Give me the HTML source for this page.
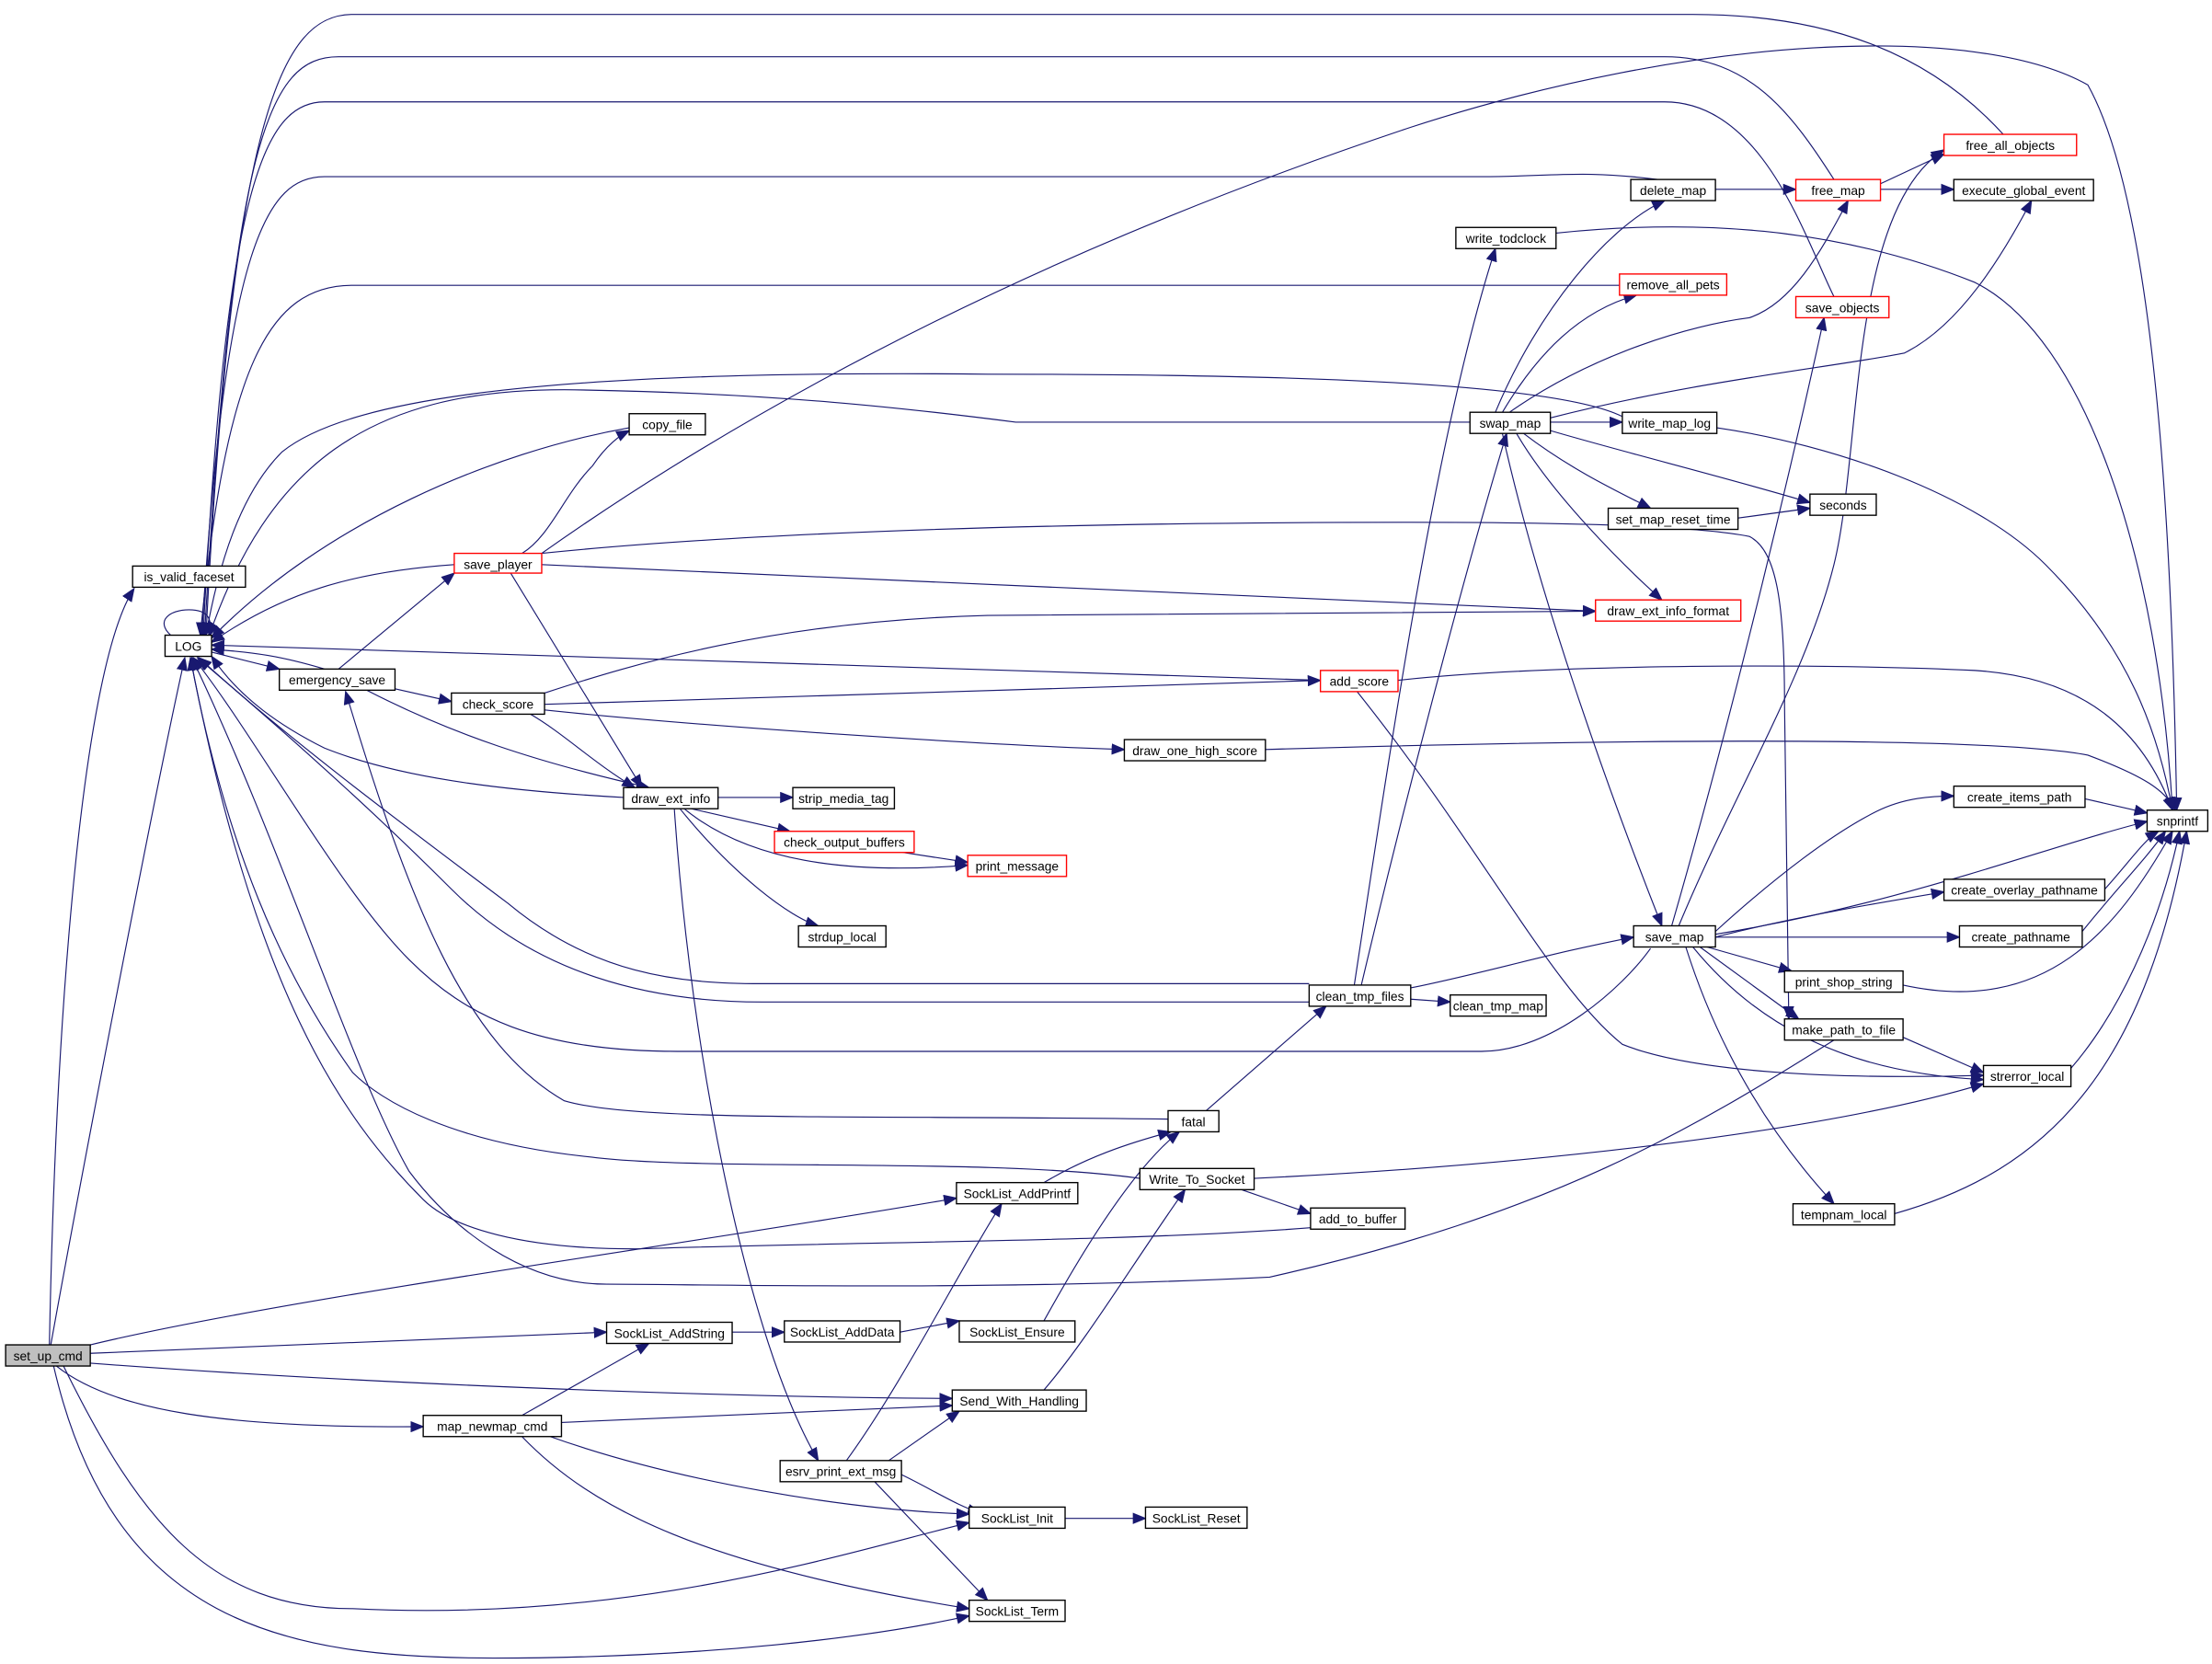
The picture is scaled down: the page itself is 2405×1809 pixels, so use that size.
<!DOCTYPE html>
<html><head><meta charset="utf-8"><style>
html,body{margin:0;padding:0;background:#fff;}
svg{display:block;}
text{font-family:"Liberation Sans",sans-serif;font-size:9px;fill:#000;text-anchor:middle;}
.e{fill:none;stroke:#191970;stroke-width:0.75;marker-end:url(#a);}
.n{fill:#fff;stroke:#000;stroke-width:0.9;}
.r{fill:#fff;stroke:#ff0000;stroke-width:0.9;}
</style></head><body>
<svg width="2405" height="1809" viewBox="0 0 1568 1179" xmlns="http://www.w3.org/2000/svg">
<defs><marker id="a" markerUnits="userSpaceOnUse" markerWidth="10" markerHeight="8" refX="9" refY="4" orient="auto"><path d="M0,0 L10,4 L0,8 z" fill="#191970"/></marker></defs>
<rect width="1568" height="1179" fill="#fff"/>
<g>
<path class="e" d="M35,953 C40,700 60,470 95,417"/>
<path class="e" d="M36,953 C60,820 110,560 131,466"/>
<path class="e" d="M64,953 C200,920 500,880 678,849"/>
<path class="e" d="M64,959 L430,944"/>
<path class="e" d="M64,966 C250,980 500,990 675,991"/>
<path class="e" d="M40,968 C80,1000 160,1012 300,1011"/>
<path class="e" d="M45,968 C100,1080 150,1140 250,1140 C450,1150 600,1100 687,1079"/>
<path class="e" d="M38,968 C80,1150 200,1175 350,1175 C500,1175 620,1160 687,1145"/>
<path class="e" d="M121,450 C110,440 120,432 134,432 C148,432 152,440 146,449"/>
<path class="e" d="M1420,95 C1370,40 1300,10 1200,10 L250,10 C200,10 165,80 146,450"/>
<path class="e" d="M1300,127 C1270,80 1240,40 1180,40 L240,40 C190,40 165,100 145,450"/>
<path class="e" d="M1300,210 C1280,170 1250,72 1180,72 L230,72 C185,72 160,140 144,450"/>
<path class="e" d="M1175,127 C1120,120 1100,125 1050,125 L230,125 C190,125 160,170 143,450"/>
<path class="e" d="M1148,202 L250,202 C190,202 160,260 142,450"/>
<path class="e" d="M1150,295 C1100,270 900,265 700,265 C400,262 250,280 200,320 C170,350 155,400 146,450"/>
<path class="e" d="M1042,299 L720,299 C650,290 550,278 400,276 C260,276 190,330 148,451"/>
<path class="e" d="M446,303 C350,320 230,370 150,452"/>
<path class="e" d="M322,400 C250,405 200,420 150,455"/>
<path class="e" d="M936,482 L150,457"/>
<path class="e" d="M230,474 C200,465 180,462 150,460"/>
<path class="e" d="M442,565 C350,560 280,550 230,530 C200,515 170,495 150,465"/>
<path class="e" d="M928,697 L540,697 C480,697 420,690 360,640 C280,580 200,520 141,466"/>
<path class="e" d="M928,710 L540,710 C460,710 380,690 320,630 C250,560 180,500 140,466"/>
<path class="e" d="M1170,672 C1150,700 1100,745 1050,745 L480,745 C380,745 330,720 290,680 C240,630 180,520 137,466"/>
<path class="e" d="M1300,737 C1200,800 1100,860 900,905 C700,915 500,910 430,910 C370,910 320,870 290,830 C250,760 200,600 136,466"/>
<path class="e" d="M808,835 C700,820 500,830 420,820 C320,810 270,780 250,760 C200,690 160,600 135,466"/>
<path class="e" d="M929,870 C800,880 600,880 450,885 C370,885 320,870 300,850 C240,790 180,700 135,466"/>
<path class="e" d="M150,462 L198,474"/>
<path class="e" d="M240,474 L322,406"/>
<path class="e" d="M280,488 L320,497"/>
<path class="e" d="M260,489 C320,520 380,540 460,558"/>
<path class="e" d="M370,392 C390,380 400,350 420,330 C430,315 440,308 446,305"/>
<path class="e" d="M362,406 L455,558"/>
<path class="e" d="M384,400 L1131,433"/>
<path class="e" d="M384,392 C500,380 700,370 1000,370 C1100,370 1200,372 1240,380 C1260,390 1265,430 1265,500 L1268,722"/>
<path class="e" d="M384,392 C500,310 700,190 1000,90 C1200,25 1400,15 1480,60 C1530,150 1540,400 1543,574"/>
<path class="e" d="M386,491 C450,470 550,440 700,436 L1131,433"/>
<path class="e" d="M386,499 L936,482"/>
<path class="e" d="M386,503 C500,515 700,528 797,531"/>
<path class="e" d="M376,506 C400,520 420,540 450,558"/>
<path class="e" d="M991,482 C1100,470 1300,470 1400,475 C1480,480 1520,520 1540,574"/>
<path class="e" d="M962,490 C1050,600 1100,700 1150,740 C1200,760 1300,765 1406,762"/>
<path class="e" d="M897,531 C1100,525 1400,520 1480,535 C1520,550 1535,560 1542,574"/>
<path class="e" d="M509,565 L562,565"/>
<path class="e" d="M490,573 L560,589"/>
<path class="e" d="M485,573 C530,610 600,620 686,613"/>
<path class="e" d="M482,573 C520,620 560,650 580,656"/>
<path class="e" d="M478,573 C490,750 530,950 580,1035"/>
<path class="e" d="M640,604 L686,611"/>
<path class="e" d="M600,1035 C640,980 680,900 710,853"/>
<path class="e" d="M630,1035 L680,1000"/>
<path class="e" d="M639,1045 C660,1055 680,1068 695,1072"/>
<path class="e" d="M620,1050 L700,1134"/>
<path class="e" d="M370,1003 L460,952"/>
<path class="e" d="M398,1008 L675,996"/>
<path class="e" d="M390,1018 C480,1050 600,1070 687,1073"/>
<path class="e" d="M370,1018 C420,1070 500,1110 687,1140"/>
<path class="e" d="M519,944 L556,944"/>
<path class="e" d="M638,944 L680,936"/>
<path class="e" d="M740,936 C760,900 800,830 836,802"/>
<path class="e" d="M740,838 C770,820 800,810 830,802"/>
<path class="e" d="M755,1076 L812,1076"/>
<path class="e" d="M740,985 C770,950 800,900 840,843"/>
<path class="e" d="M828,793 C600,790 450,795 400,780 C330,740 290,640 245,490"/>
<path class="e" d="M855,787 L940,713"/>
<path class="e" d="M889,835 C1100,825 1300,800 1406,768"/>
<path class="e" d="M880,843 L929,860"/>
<path class="e" d="M960,698 C990,500 1020,300 1060,176"/>
<path class="e" d="M965,698 C1000,550 1040,400 1068,307"/>
<path class="e" d="M1000,700 C1050,690 1100,675 1158,664"/>
<path class="e" d="M1000,708 L1028,710"/>
<path class="e" d="M1103,165 C1200,155 1300,160 1400,200 C1480,240 1530,400 1540,574"/>
<path class="e" d="M1060,292 C1090,220 1140,160 1180,142"/>
<path class="e" d="M1065,292 C1090,250 1120,220 1160,209"/>
<path class="e" d="M1070,292 C1130,250 1200,230 1240,225 C1270,215 1290,180 1310,142"/>
<path class="e" d="M1099,296 C1200,270 1300,260 1350,250 C1390,230 1420,180 1440,142"/>
<path class="e" d="M1099,299 L1150,299"/>
<path class="e" d="M1099,305 C1150,320 1230,340 1283,356"/>
<path class="e" d="M1080,307 C1110,330 1140,345 1170,360"/>
<path class="e" d="M1075,307 C1100,350 1150,400 1178,425"/>
<path class="e" d="M1065,307 C1090,420 1140,560 1178,656"/>
<path class="e" d="M1217,303 C1300,315 1400,350 1450,400 C1510,460 1530,520 1540,574"/>
<path class="e" d="M1232,367 L1283,360"/>
<path class="e" d="M1216,134 L1273,134"/>
<path class="e" d="M1333,130 L1378,109"/>
<path class="e" d="M1333,134 L1385,134"/>
<path class="e" d="M1185,656 C1230,500 1270,330 1293,225"/>
<path class="e" d="M1190,656 C1230,560 1280,480 1300,400 C1320,320 1310,150 1378,106"/>
<path class="e" d="M1216,660 C1260,620 1300,590 1330,575 C1350,565 1370,564 1385,564"/>
<path class="e" d="M1216,662 C1350,640 1450,600 1522,582"/>
<path class="e" d="M1216,664 C1270,650 1330,640 1378,632"/>
<path class="e" d="M1216,664 L1389,664"/>
<path class="e" d="M1210,671 L1270,688"/>
<path class="e" d="M1205,671 L1275,722"/>
<path class="e" d="M1200,671 C1240,720 1300,760 1406,765"/>
<path class="e" d="M1195,671 C1220,750 1260,810 1300,853"/>
<path class="e" d="M1478,566 L1522,576"/>
<path class="e" d="M1492,630 C1510,610 1520,595 1530,589"/>
<path class="e" d="M1476,660 C1500,630 1520,610 1535,589"/>
<path class="e" d="M1349,698 C1450,720 1500,660 1540,589"/>
<path class="e" d="M1468,757 C1500,720 1530,660 1545,589"/>
<path class="e" d="M1343,860 C1450,830 1520,760 1550,589"/>
<path class="e" d="M1349,735 L1406,760"/>
</g>
<g>
<rect x="4" y="953" width="60" height="15" fill="#bfbfbf" stroke="#000" stroke-width="0.9"/><text x="34" y="964">set_up_cmd</text>
<rect class="n" x="94" y="401" width="80" height="15"/><text x="134" y="412">is_valid_faceset</text>
<rect class="n" x="117" y="450" width="33" height="15"/><text x="133.5" y="461">LOG</text>
<rect class="n" x="198" y="474" width="82" height="15"/><text x="239" y="485">emergency_save</text>
<rect class="n" x="320" y="491" width="66" height="15"/><text x="353" y="502">check_score</text>
<rect class="r" x="322" y="392" width="62" height="14"/><text x="353" y="403">save_player</text>
<rect class="n" x="446" y="293" width="54" height="15"/><text x="473" y="304">copy_file</text>
<rect class="n" x="442" y="558" width="67" height="15"/><text x="475.5" y="569">draw_ext_info</text>
<rect class="n" x="562" y="558" width="72" height="15"/><text x="598" y="569">strip_media_tag</text>
<rect class="r" x="549" y="589" width="99" height="15"/><text x="598.5" y="600">check_output_buffers</text>
<rect class="r" x="686" y="606" width="70" height="15"/><text x="721" y="617">print_message</text>
<rect class="n" x="566" y="656" width="62" height="15"/><text x="597" y="667">strdup_local</text>
<rect class="n" x="553" y="1035" width="86" height="15"/><text x="596" y="1046">esrv_print_ext_msg</text>
<rect class="n" x="430" y="937" width="89" height="15"/><text x="474.5" y="948">SockList_AddString</text>
<rect class="n" x="678" y="838" width="86" height="15"/><text x="721" y="849">SockList_AddPrintf</text>
<rect class="n" x="556" y="936" width="82" height="15"/><text x="597" y="947">SockList_AddData</text>
<rect class="n" x="680" y="936" width="82" height="15"/><text x="721" y="947">SockList_Ensure</text>
<rect class="n" x="300" y="1003" width="98" height="15"/><text x="349" y="1014">map_newmap_cmd</text>
<rect class="n" x="675" y="985" width="95" height="15"/><text x="722.5" y="996">Send_With_Handling</text>
<rect class="n" x="687" y="1068" width="68" height="15"/><text x="721" y="1079">SockList_Init</text>
<rect class="n" x="812" y="1068" width="72" height="15"/><text x="848" y="1079">SockList_Reset</text>
<rect class="n" x="687" y="1134" width="68" height="15"/><text x="721" y="1145">SockList_Term</text>
<rect class="n" x="828" y="787" width="36" height="15"/><text x="846" y="798">fatal</text>
<rect class="n" x="808" y="828" width="81" height="15"/><text x="848.5" y="839">Write_To_Socket</text>
<rect class="n" x="929" y="856" width="67" height="15"/><text x="962.5" y="867">add_to_buffer</text>
<rect class="n" x="928" y="698" width="72" height="15"/><text x="964" y="709">clean_tmp_files</text>
<rect class="n" x="1028" y="705" width="68" height="15"/><text x="1062" y="716">clean_tmp_map</text>
<rect class="r" x="936" y="475" width="55" height="15"/><text x="963.5" y="486">add_score</text>
<rect class="n" x="797" y="524" width="100" height="15"/><text x="847" y="535">draw_one_high_score</text>
<rect class="n" x="1032" y="161" width="71" height="15"/><text x="1067.5" y="172">write_todclock</text>
<rect class="n" x="1156" y="127" width="60" height="15"/><text x="1186" y="138">delete_map</text>
<rect class="r" x="1148" y="194" width="76" height="15"/><text x="1186" y="205">remove_all_pets</text>
<rect class="n" x="1042" y="292" width="57" height="15"/><text x="1070.5" y="303">swap_map</text>
<rect class="n" x="1150" y="292" width="67" height="15"/><text x="1183.5" y="303">write_map_log</text>
<rect class="n" x="1140" y="360" width="92" height="15"/><text x="1186" y="371">set_map_reset_time</text>
<rect class="r" x="1131" y="425" width="103" height="15"/><text x="1182.5" y="436">draw_ext_info_format</text>
<rect class="n" x="1158" y="656" width="58" height="15"/><text x="1187" y="667">save_map</text>
<rect class="r" x="1273" y="127" width="60" height="15"/><text x="1303" y="138">free_map</text>
<rect class="r" x="1378" y="95" width="94" height="15"/><text x="1425" y="106">free_all_objects</text>
<rect class="n" x="1385" y="127" width="99" height="15"/><text x="1434.5" y="138">execute_global_event</text>
<rect class="r" x="1273" y="210" width="66" height="15"/><text x="1306" y="221">save_objects</text>
<rect class="n" x="1283" y="350" width="47" height="15"/><text x="1306.5" y="361">seconds</text>
<rect class="n" x="1522" y="574" width="43" height="15"/><text x="1543.5" y="585">snprintf</text>
<rect class="n" x="1385" y="557" width="93" height="15"/><text x="1431.5" y="568">create_items_path</text>
<rect class="n" x="1378" y="623" width="114" height="15"/><text x="1435" y="634">create_overlay_pathname</text>
<rect class="n" x="1389" y="656" width="87" height="15"/><text x="1432.5" y="667">create_pathname</text>
<rect class="n" x="1265" y="688" width="84" height="15"/><text x="1307" y="699">print_shop_string</text>
<rect class="n" x="1265" y="722" width="84" height="15"/><text x="1307" y="733">make_path_to_file</text>
<rect class="n" x="1406" y="755" width="62" height="15"/><text x="1437" y="766">strerror_local</text>
<rect class="n" x="1271" y="853" width="72" height="15"/><text x="1307" y="864">tempnam_local</text>
</g>
</svg>
</body></html>
